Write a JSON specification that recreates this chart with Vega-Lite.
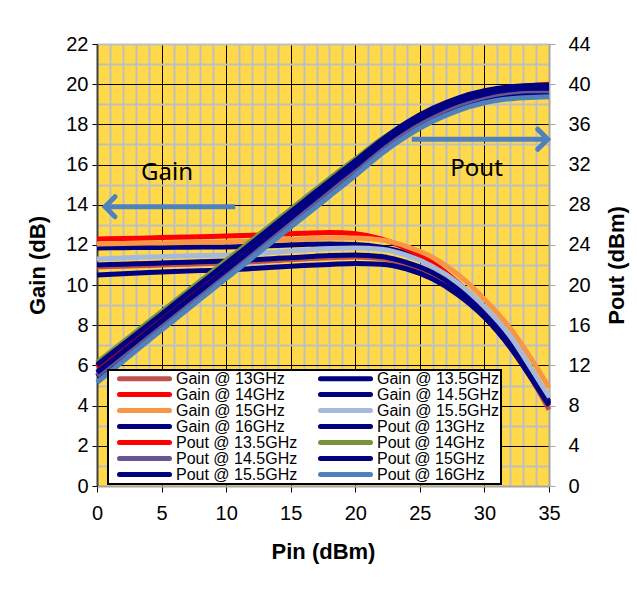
{
  "$schema": "https://vega.github.io/schema/vega-lite/v6.json",
  "width": 452,
  "height": 442,
  "autosize": {"type": "none"},
  "padding": {"left": 97, "top": 44, "right": 88, "bottom": 107},
  "background": "white",
  "config": {
    "view": {"fill": "#FFD94A", "stroke": null},
    "axis": {"labelFont": "Liberation Sans", "titleFont": "Liberation Sans", "labelFontSize": 20, "titleFontSize": 22, "titleFontWeight": "bold", "labelColor": "#000000", "titleColor": "#000000"}
  },
  "datasets": {
    "gain": [
      {"s":"Gain @ 13GHz","x":0,"g":10.9},{"s":"Gain @ 13GHz","x":2,"g":10.94},{"s":"Gain @ 13GHz","x":4,"g":10.98},{"s":"Gain @ 13GHz","x":6,"g":11.02},{"s":"Gain @ 13GHz","x":8,"g":11.06},{"s":"Gain @ 13GHz","x":10,"g":11.1},{"s":"Gain @ 13GHz","x":12,"g":11.16},{"s":"Gain @ 13GHz","x":14,"g":11.23},{"s":"Gain @ 13GHz","x":16,"g":11.3},{"s":"Gain @ 13GHz","x":18,"g":11.36},{"s":"Gain @ 13GHz","x":20,"g":11.4},{"s":"Gain @ 13GHz","x":22,"g":11.32},{"s":"Gain @ 13GHz","x":24,"g":11.02},{"s":"Gain @ 13GHz","x":26,"g":10.48},{"s":"Gain @ 13GHz","x":28,"g":9.62},{"s":"Gain @ 13GHz","x":30,"g":8.5},{"s":"Gain @ 13GHz","x":32,"g":6.95},{"s":"Gain @ 13GHz","x":34,"g":4.95},{"s":"Gain @ 13GHz","x":35,"g":3.8},
      {"s":"Gain @ 13.5GHz","x":0,"g":11.85},{"s":"Gain @ 13.5GHz","x":2,"g":11.86},{"s":"Gain @ 13.5GHz","x":4,"g":11.87},{"s":"Gain @ 13.5GHz","x":6,"g":11.88},{"s":"Gain @ 13.5GHz","x":8,"g":11.89},{"s":"Gain @ 13.5GHz","x":10,"g":11.9},{"s":"Gain @ 13.5GHz","x":12,"g":11.93},{"s":"Gain @ 13.5GHz","x":14,"g":11.97},{"s":"Gain @ 13.5GHz","x":16,"g":12.02},{"s":"Gain @ 13.5GHz","x":18,"g":12.05},{"s":"Gain @ 13.5GHz","x":20,"g":12.02},{"s":"Gain @ 13.5GHz","x":22,"g":11.88},{"s":"Gain @ 13.5GHz","x":24,"g":11.55},{"s":"Gain @ 13.5GHz","x":26,"g":10.95},{"s":"Gain @ 13.5GHz","x":28,"g":10.05},{"s":"Gain @ 13.5GHz","x":30,"g":8.85},{"s":"Gain @ 13.5GHz","x":32,"g":7.3},{"s":"Gain @ 13.5GHz","x":34,"g":5.25},{"s":"Gain @ 13.5GHz","x":35,"g":4.2},
      {"s":"Gain @ 14GHz","x":0,"g":12.3},{"s":"Gain @ 14GHz","x":2,"g":12.32},{"s":"Gain @ 14GHz","x":4,"g":12.35},{"s":"Gain @ 14GHz","x":6,"g":12.38},{"s":"Gain @ 14GHz","x":8,"g":12.41},{"s":"Gain @ 14GHz","x":10,"g":12.44},{"s":"Gain @ 14GHz","x":12,"g":12.48},{"s":"Gain @ 14GHz","x":14,"g":12.53},{"s":"Gain @ 14GHz","x":16,"g":12.58},{"s":"Gain @ 14GHz","x":18,"g":12.62},{"s":"Gain @ 14GHz","x":20,"g":12.55},{"s":"Gain @ 14GHz","x":22,"g":12.3},{"s":"Gain @ 14GHz","x":24,"g":11.8},{"s":"Gain @ 14GHz","x":26,"g":11.1},{"s":"Gain @ 14GHz","x":28,"g":10.1},{"s":"Gain @ 14GHz","x":30,"g":8.85},{"s":"Gain @ 14GHz","x":32,"g":7.25},{"s":"Gain @ 14GHz","x":34,"g":5.2},{"s":"Gain @ 14GHz","x":35,"g":4.1},
      {"s":"Gain @ 14.5GHz","x":0,"g":11.0},{"s":"Gain @ 14.5GHz","x":2,"g":11.04},{"s":"Gain @ 14.5GHz","x":4,"g":11.08},{"s":"Gain @ 14.5GHz","x":6,"g":11.12},{"s":"Gain @ 14.5GHz","x":8,"g":11.16},{"s":"Gain @ 14.5GHz","x":10,"g":11.2},{"s":"Gain @ 14.5GHz","x":12,"g":11.26},{"s":"Gain @ 14.5GHz","x":14,"g":11.33},{"s":"Gain @ 14.5GHz","x":16,"g":11.4},{"s":"Gain @ 14.5GHz","x":18,"g":11.47},{"s":"Gain @ 14.5GHz","x":20,"g":11.5},{"s":"Gain @ 14.5GHz","x":22,"g":11.42},{"s":"Gain @ 14.5GHz","x":24,"g":11.12},{"s":"Gain @ 14.5GHz","x":26,"g":10.62},{"s":"Gain @ 14.5GHz","x":28,"g":9.78},{"s":"Gain @ 14.5GHz","x":30,"g":8.65},{"s":"Gain @ 14.5GHz","x":32,"g":7.15},{"s":"Gain @ 14.5GHz","x":34,"g":5.15},{"s":"Gain @ 14.5GHz","x":35,"g":4.1},
      {"s":"Gain @ 15GHz","x":0,"g":12.05},{"s":"Gain @ 15GHz","x":2,"g":12.07},{"s":"Gain @ 15GHz","x":4,"g":12.09},{"s":"Gain @ 15GHz","x":6,"g":12.11},{"s":"Gain @ 15GHz","x":8,"g":12.13},{"s":"Gain @ 15GHz","x":10,"g":12.15},{"s":"Gain @ 15GHz","x":12,"g":12.2},{"s":"Gain @ 15GHz","x":14,"g":12.25},{"s":"Gain @ 15GHz","x":16,"g":12.3},{"s":"Gain @ 15GHz","x":18,"g":12.35},{"s":"Gain @ 15GHz","x":20,"g":12.35},{"s":"Gain @ 15GHz","x":22,"g":12.25},{"s":"Gain @ 15GHz","x":24,"g":11.92},{"s":"Gain @ 15GHz","x":26,"g":11.38},{"s":"Gain @ 15GHz","x":28,"g":10.5},{"s":"Gain @ 15GHz","x":30,"g":9.3},{"s":"Gain @ 15GHz","x":32,"g":7.85},{"s":"Gain @ 15GHz","x":34,"g":5.95},{"s":"Gain @ 15GHz","x":35,"g":4.9},
      {"s":"Gain @ 15.5GHz","x":0,"g":11.3},{"s":"Gain @ 15.5GHz","x":2,"g":11.35},{"s":"Gain @ 15.5GHz","x":4,"g":11.4},{"s":"Gain @ 15.5GHz","x":6,"g":11.44},{"s":"Gain @ 15.5GHz","x":8,"g":11.47},{"s":"Gain @ 15.5GHz","x":10,"g":11.5},{"s":"Gain @ 15.5GHz","x":12,"g":11.57},{"s":"Gain @ 15.5GHz","x":14,"g":11.65},{"s":"Gain @ 15.5GHz","x":16,"g":11.74},{"s":"Gain @ 15.5GHz","x":18,"g":11.82},{"s":"Gain @ 15.5GHz","x":20,"g":11.85},{"s":"Gain @ 15.5GHz","x":22,"g":11.78},{"s":"Gain @ 15.5GHz","x":24,"g":11.48},{"s":"Gain @ 15.5GHz","x":26,"g":10.92},{"s":"Gain @ 15.5GHz","x":28,"g":10.08},{"s":"Gain @ 15.5GHz","x":30,"g":8.92},{"s":"Gain @ 15.5GHz","x":32,"g":7.45},{"s":"Gain @ 15.5GHz","x":34,"g":5.45},{"s":"Gain @ 15.5GHz","x":35,"g":4.4},
      {"s":"Gain @ 16GHz","x":0,"g":10.5},{"s":"Gain @ 16GHz","x":2,"g":10.57},{"s":"Gain @ 16GHz","x":4,"g":10.63},{"s":"Gain @ 16GHz","x":6,"g":10.68},{"s":"Gain @ 16GHz","x":8,"g":10.72},{"s":"Gain @ 16GHz","x":10,"g":10.75},{"s":"Gain @ 16GHz","x":12,"g":10.82},{"s":"Gain @ 16GHz","x":14,"g":10.9},{"s":"Gain @ 16GHz","x":16,"g":10.97},{"s":"Gain @ 16GHz","x":18,"g":11.03},{"s":"Gain @ 16GHz","x":20,"g":11.08},{"s":"Gain @ 16GHz","x":22,"g":11.04},{"s":"Gain @ 16GHz","x":24,"g":10.8},{"s":"Gain @ 16GHz","x":26,"g":10.3},{"s":"Gain @ 16GHz","x":28,"g":9.5},{"s":"Gain @ 16GHz","x":30,"g":8.4},{"s":"Gain @ 16GHz","x":32,"g":6.9},{"s":"Gain @ 16GHz","x":34,"g":5.0},{"s":"Gain @ 16GHz","x":35,"g":4.0}
    ],
    "pout": [
      {"s":"Pout @ 13GHz","x":0,"p":10.9},{"s":"Pout @ 13GHz","x":2,"p":12.94},{"s":"Pout @ 13GHz","x":4,"p":14.98},{"s":"Pout @ 13GHz","x":6,"p":17.02},{"s":"Pout @ 13GHz","x":8,"p":19.06},{"s":"Pout @ 13GHz","x":10,"p":21.1},{"s":"Pout @ 13GHz","x":12,"p":23.16},{"s":"Pout @ 13GHz","x":14,"p":25.23},{"s":"Pout @ 13GHz","x":16,"p":27.3},{"s":"Pout @ 13GHz","x":18,"p":29.36},{"s":"Pout @ 13GHz","x":20,"p":31.4},{"s":"Pout @ 13GHz","x":22,"p":33.5},{"s":"Pout @ 13GHz","x":24,"p":35.3},{"s":"Pout @ 13GHz","x":26,"p":36.75},{"s":"Pout @ 13GHz","x":28,"p":37.8},{"s":"Pout @ 13GHz","x":30,"p":38.55},{"s":"Pout @ 13GHz","x":32,"p":38.95},{"s":"Pout @ 13GHz","x":34,"p":39.05},{"s":"Pout @ 13GHz","x":35,"p":39.05},
      {"s":"Pout @ 13.5GHz","x":0,"p":11.85},{"s":"Pout @ 13.5GHz","x":2,"p":13.86},{"s":"Pout @ 13.5GHz","x":4,"p":15.87},{"s":"Pout @ 13.5GHz","x":6,"p":17.88},{"s":"Pout @ 13.5GHz","x":8,"p":19.89},{"s":"Pout @ 13.5GHz","x":10,"p":21.9},{"s":"Pout @ 13.5GHz","x":12,"p":23.93},{"s":"Pout @ 13.5GHz","x":14,"p":25.97},{"s":"Pout @ 13.5GHz","x":16,"p":28.02},{"s":"Pout @ 13.5GHz","x":18,"p":30.05},{"s":"Pout @ 13.5GHz","x":20,"p":32.0},{"s":"Pout @ 13.5GHz","x":22,"p":34.05},{"s":"Pout @ 13.5GHz","x":24,"p":35.8},{"s":"Pout @ 13.5GHz","x":26,"p":37.2},{"s":"Pout @ 13.5GHz","x":28,"p":38.3},{"s":"Pout @ 13.5GHz","x":30,"p":39.05},{"s":"Pout @ 13.5GHz","x":32,"p":39.55},{"s":"Pout @ 13.5GHz","x":34,"p":39.9},{"s":"Pout @ 13.5GHz","x":35,"p":40.0},
      {"s":"Pout @ 14GHz","x":0,"p":12.3},{"s":"Pout @ 14GHz","x":2,"p":14.32},{"s":"Pout @ 14GHz","x":4,"p":16.35},{"s":"Pout @ 14GHz","x":6,"p":18.38},{"s":"Pout @ 14GHz","x":8,"p":20.41},{"s":"Pout @ 14GHz","x":10,"p":22.44},{"s":"Pout @ 14GHz","x":12,"p":24.48},{"s":"Pout @ 14GHz","x":14,"p":26.53},{"s":"Pout @ 14GHz","x":16,"p":28.58},{"s":"Pout @ 14GHz","x":18,"p":30.6},{"s":"Pout @ 14GHz","x":20,"p":32.55},{"s":"Pout @ 14GHz","x":22,"p":34.5},{"s":"Pout @ 14GHz","x":24,"p":36.1},{"s":"Pout @ 14GHz","x":26,"p":37.35},{"s":"Pout @ 14GHz","x":28,"p":38.3},{"s":"Pout @ 14GHz","x":30,"p":38.95},{"s":"Pout @ 14GHz","x":32,"p":39.3},{"s":"Pout @ 14GHz","x":34,"p":39.45},{"s":"Pout @ 14GHz","x":35,"p":39.45},
      {"s":"Pout @ 14.5GHz","x":0,"p":11.0},{"s":"Pout @ 14.5GHz","x":2,"p":13.04},{"s":"Pout @ 14.5GHz","x":4,"p":15.08},{"s":"Pout @ 14.5GHz","x":6,"p":17.12},{"s":"Pout @ 14.5GHz","x":8,"p":19.16},{"s":"Pout @ 14.5GHz","x":10,"p":21.2},{"s":"Pout @ 14.5GHz","x":12,"p":23.26},{"s":"Pout @ 14.5GHz","x":14,"p":25.33},{"s":"Pout @ 14.5GHz","x":16,"p":27.4},{"s":"Pout @ 14.5GHz","x":18,"p":29.47},{"s":"Pout @ 14.5GHz","x":20,"p":31.5},{"s":"Pout @ 14.5GHz","x":22,"p":33.6},{"s":"Pout @ 14.5GHz","x":24,"p":35.4},{"s":"Pout @ 14.5GHz","x":26,"p":36.85},{"s":"Pout @ 14.5GHz","x":28,"p":37.95},{"s":"Pout @ 14.5GHz","x":30,"p":38.75},{"s":"Pout @ 14.5GHz","x":32,"p":39.2},{"s":"Pout @ 14.5GHz","x":34,"p":39.35},{"s":"Pout @ 14.5GHz","x":35,"p":39.35},
      {"s":"Pout @ 15GHz","x":0,"p":12.05},{"s":"Pout @ 15GHz","x":2,"p":14.07},{"s":"Pout @ 15GHz","x":4,"p":16.09},{"s":"Pout @ 15GHz","x":6,"p":18.11},{"s":"Pout @ 15GHz","x":8,"p":20.13},{"s":"Pout @ 15GHz","x":10,"p":22.15},{"s":"Pout @ 15GHz","x":12,"p":24.2},{"s":"Pout @ 15GHz","x":14,"p":26.25},{"s":"Pout @ 15GHz","x":16,"p":28.3},{"s":"Pout @ 15GHz","x":18,"p":30.35},{"s":"Pout @ 15GHz","x":20,"p":32.35},{"s":"Pout @ 15GHz","x":22,"p":34.4},{"s":"Pout @ 15GHz","x":24,"p":36.2},{"s":"Pout @ 15GHz","x":26,"p":37.6},{"s":"Pout @ 15GHz","x":28,"p":38.65},{"s":"Pout @ 15GHz","x":30,"p":39.35},{"s":"Pout @ 15GHz","x":32,"p":39.75},{"s":"Pout @ 15GHz","x":34,"p":39.9},{"s":"Pout @ 15GHz","x":35,"p":39.9},
      {"s":"Pout @ 15.5GHz","x":0,"p":11.3},{"s":"Pout @ 15.5GHz","x":2,"p":13.35},{"s":"Pout @ 15.5GHz","x":4,"p":15.4},{"s":"Pout @ 15.5GHz","x":6,"p":17.44},{"s":"Pout @ 15.5GHz","x":8,"p":19.47},{"s":"Pout @ 15.5GHz","x":10,"p":21.5},{"s":"Pout @ 15.5GHz","x":12,"p":23.57},{"s":"Pout @ 15.5GHz","x":14,"p":25.65},{"s":"Pout @ 15.5GHz","x":16,"p":27.74},{"s":"Pout @ 15.5GHz","x":18,"p":29.82},{"s":"Pout @ 15.5GHz","x":20,"p":31.85},{"s":"Pout @ 15.5GHz","x":22,"p":33.95},{"s":"Pout @ 15.5GHz","x":24,"p":35.75},{"s":"Pout @ 15.5GHz","x":26,"p":37.15},{"s":"Pout @ 15.5GHz","x":28,"p":38.25},{"s":"Pout @ 15.5GHz","x":30,"p":39.0},{"s":"Pout @ 15.5GHz","x":32,"p":39.45},{"s":"Pout @ 15.5GHz","x":34,"p":39.6},{"s":"Pout @ 15.5GHz","x":35,"p":39.6},
      {"s":"Pout @ 16GHz","x":0,"p":10.3},{"s":"Pout @ 16GHz","x":2,"p":12.4},{"s":"Pout @ 16GHz","x":4,"p":14.5},{"s":"Pout @ 16GHz","x":6,"p":16.55},{"s":"Pout @ 16GHz","x":8,"p":18.6},{"s":"Pout @ 16GHz","x":10,"p":20.65},{"s":"Pout @ 16GHz","x":12,"p":22.7},{"s":"Pout @ 16GHz","x":14,"p":24.75},{"s":"Pout @ 16GHz","x":16,"p":26.8},{"s":"Pout @ 16GHz","x":18,"p":28.85},{"s":"Pout @ 16GHz","x":20,"p":30.9},{"s":"Pout @ 16GHz","x":22,"p":33.05},{"s":"Pout @ 16GHz","x":24,"p":34.85},{"s":"Pout @ 16GHz","x":26,"p":36.3},{"s":"Pout @ 16GHz","x":28,"p":37.4},{"s":"Pout @ 16GHz","x":30,"p":38.15},{"s":"Pout @ 16GHz","x":32,"p":38.55},{"s":"Pout @ 16GHz","x":34,"p":38.7},{"s":"Pout @ 16GHz","x":35,"p":38.75}
    ],
    "arrows": [
      {"x": 0.62, "x2": 10.7, "g": 13.9},
      {"x": 24.37, "x2": 34.9, "g": 17.26}
    ],
    "labels": [
      {"x": 5.42, "g": 15.25, "t": "Gain"},
      {"x": 29.39, "g": 15.43, "t": "Pout"}
    ],
    "headL": [{"x": 0.62, "g": 13.9}],
    "headR": [{"x": 34.9, "g": 17.26}]
  },
  "encoding": {
    "x": {
      "field": "x", "type": "quantitative",
      "scale": {"domain": [0, 35], "nice": false},
      "axis": {
        "title": "Pin (dBm)",
        "values": [0,1,2,3,4,5,6,7,8,9,10,11,12,13,14,15,16,17,18,19,20,21,22,23,24,25,26,27,28,29,30,31,32,33,34,35],
        "labelExpr": "datum.value % 5 === 0 ? datum.label : ''",
        "labelOverlap": false,
        "labelFlush": false,
        "grid": true,
        "gridColor": {"condition": {"test": "datum.value % 5 === 0", "value": "#000000"}, "value": "#BFBFBF"},
        "gridWidth": {"condition": {"test": "datum.value % 5 === 0", "value": 1}, "value": 2},
        "tickOpacity": {"condition": {"test": "datum.value % 5 === 0", "value": 1}, "value": 0},
        "tickColor": "#000000",
        "tickSize": 6,
        "domainColor": "#A6A6A6",
        "domainWidth": 2,
        "labelPadding": 11,
        "titleX": 226,
        "titleY": 65,
        "titleAlign": "center",
        "titleBaseline": "middle"
      }
    }
  },
  "layer": [
    {
      "encoding": {
        "y": {
          "field": "g", "type": "quantitative",
          "scale": {"domain": [0, 22], "nice": false},
          "axis": {
            "orient": "left",
            "title": "Gain (dB)",
            "values": [0,1,2,3,4,5,6,7,8,9,10,11,12,13,14,15,16,17,18,19,20,21,22],
            "labelExpr": "datum.value % 2 === 0 ? datum.label : ''",
            "labelOverlap": false,
            "labelFlush": false,
            "grid": true,
            "gridColor": {"condition": {"test": "datum.value % 2 === 0 && datum.value < 22", "value": "#000000"}, "value": "#BFBFBF"},
            "gridWidth": {"condition": {"test": "datum.value % 2 === 0 && datum.value < 22", "value": 1}, "value": 2},
            "tickOpacity": {"condition": {"test": "datum.value % 2 === 0", "value": 1}, "value": 0},
            "tickColor": "#000000",
            "tickSize": 5,
            "domainColor": "#404040",
            "domainWidth": 2,
            "labelPadding": 4,
            "titleAngle": -90,
            "titleX": -60,
            "titleY": 221,
            "titleAlign": "center",
            "titleBaseline": "middle"
          }
        }
      },
      "layer": [
        {
          "data": {"name": "gain"},
          "mark": {"type": "line", "interpolate": "monotone", "strokeWidth": 5},
          "encoding": {
            "color": {
              "field": "s", "type": "nominal",
              "scale": {
                "domain": ["Gain @ 13GHz","Gain @ 13.5GHz","Gain @ 14GHz","Gain @ 14.5GHz","Gain @ 15GHz","Gain @ 15.5GHz","Gain @ 16GHz","Pout @ 13GHz","Pout @ 13.5GHz","Pout @ 14GHz","Pout @ 14.5GHz","Pout @ 15GHz","Pout @ 15.5GHz","Pout @ 16GHz"],
                "range": ["#C0504D","#000080","#FF0000","#000080","#F79646","#A7B9DA","#000080","#000080","#FF0000","#77933C","#6A5593","#000080","#000080","#4F81BD"]
              },
              "legend": {
                "title": null,
                "orient": "none",
                "legendX": 11,
                "legendY": 326,
                "direction": "horizontal",
                "columns": 2,
                "labelFont": "Liberation Sans",
                "labelFontSize": 16,
                "labelColor": "#000000",
                "symbolType": "stroke",
                "symbolSize": 2500,
                "symbolStrokeWidth": 5,
                "clipHeight": 15,
                "rowPadding": -1.5,
                "columnPadding": 12,
                "padding": 1,
                "symbolOffset": 8,
                "labelOffset": 4,
                "fillColor": "#FFFFFF",
                "strokeColor": "#000000",
                "labelLimit": 300,
                "encode": {
                  "legend": {"update": {"strokeWidth": {"value": 2}}},
                  "symbols": {"update": {"strokeCap": {"value": "round"}}}
                }
              }
            }
          }
        },
        {
          "data": {"name": "arrows"},
          "mark": {"type": "rule", "color": "#4F81BD", "strokeWidth": 5},
          "encoding": {"x2": {"field": "x2"}}
        },
        {
          "data": {"name": "headL"},
          "mark": {"type": "point", "shape": "M 1 -1 L 0 0 L 1 1", "size": 400, "filled": false, "stroke": "#4F81BD", "strokeWidth": 5, "opacity": 1, "strokeCap": "round"},
          "encoding": {}
        },
        {
          "data": {"name": "headR"},
          "mark": {"type": "point", "shape": "M -1 -1 L 0 0 L -1 1", "size": 400, "filled": false, "stroke": "#4F81BD", "strokeWidth": 5, "opacity": 1, "strokeCap": "round"},
          "encoding": {}
        },
        {
          "data": {"name": "labels"},
          "mark": {"type": "text", "font": "Noto Sans", "fontSize": 24, "align": "center", "baseline": "alphabetic", "color": "#000000"},
          "encoding": {"text": {"field": "t"}}
        }
      ]
    },
    {
      "encoding": {
        "y": {
          "field": "p", "type": "quantitative",
          "scale": {"domain": [0, 44], "nice": false},
          "axis": {
            "orient": "right",
            "title": "Pout (dBm)",
            "values": [0,4,8,12,16,20,24,28,32,36,40,44],
            "grid": false,
            "tickColor": "#A6A6A6",
            "tickSize": 6,
            "domainColor": "#A6A6A6",
            "domainWidth": 2,
            "labelPadding": 13,
            "labelFlush": false,
            "titleAngle": -90,
            "titleX": 67,
            "titleY": 221,
            "titleAlign": "center",
            "titleBaseline": "middle"
          }
        }
      },
      "layer": [
        {
          "data": {"name": "pout"},
          "mark": {"type": "line", "interpolate": "monotone", "strokeWidth": 5},
          "encoding": {
            "color": {
              "field": "s", "type": "nominal",
              "scale": {
                "domain": ["Gain @ 13GHz","Gain @ 13.5GHz","Gain @ 14GHz","Gain @ 14.5GHz","Gain @ 15GHz","Gain @ 15.5GHz","Gain @ 16GHz","Pout @ 13GHz","Pout @ 13.5GHz","Pout @ 14GHz","Pout @ 14.5GHz","Pout @ 15GHz","Pout @ 15.5GHz","Pout @ 16GHz"],
                "range": ["#C0504D","#000080","#FF0000","#000080","#F79646","#A7B9DA","#000080","#000080","#FF0000","#77933C","#6A5593","#000080","#000080","#4F81BD"]
              }
            }
          }
        }
      ]
    }
  ],
  "resolve": {"scale": {"y": "independent"}}
}
